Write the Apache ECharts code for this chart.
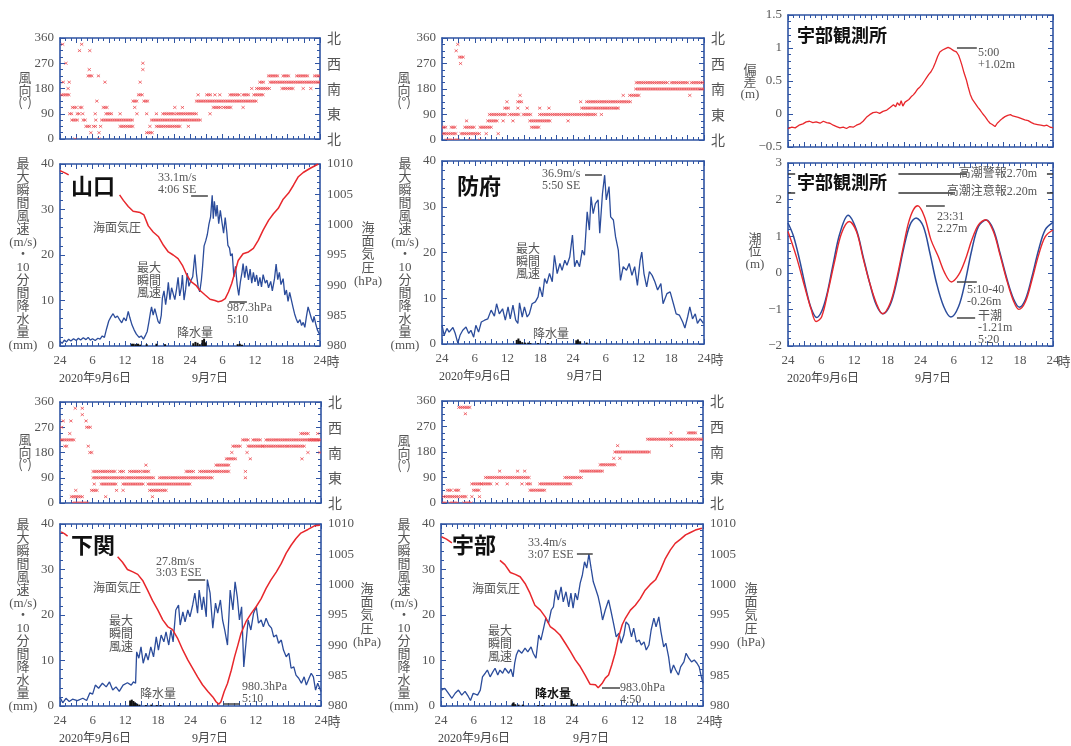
<!DOCTYPE html>
<html><head><meta charset="utf-8">
<script src="https://cdn.jsdelivr.net/npm/echarts@6/dist/echarts.min.js"></script>
<style>html,body{margin:0;padding:0;background:#fff}#c{width:1071px;height:746px}</style>
</head><body><div id="c"></div>
<script>
// ---------- tick labels ----------
const hourLabels = ['24','6','12','18','24','6','12','18','24'];
const dirLabels = {0:'北',90:'東',180:'南',270:'西',360:'北'};

// ---------- wind direction runs [startHour, endHour, degrees] ----------
const dirYamaguchi = [[0.5,0.5,337.5],[0.3,1.5,157.5],[0.6,0.6,202.5],[1.1,1.1,270],[1.5,1.5,180],[1.7,1.7,202.5],[1.8,2.2,90],[2.3,2.8,112.5],[2.2,3.1,67.5],[2.8,2.8,0],[3.2,3.7,90],[3.6,3.6,315],[3.7,4.0,112.5],[4.2,4.2,90],[4.0,4.0,337.5],[4.3,4.8,67.5],[4.8,5.5,45],[5.2,5.8,225],[5.4,5.4,247.5],[5.5,5.5,315],[5.7,5.7,22.5],[6.2,6.5,45],[6.5,6.5,90],[6.6,6.6,67.5],[6.8,6.8,135],[7.1,7.1,225],[7.2,7.2,0],[7.2,7.2,22.5],[7.5,7.5,45],[8.0,8.6,112.5],[8.3,8.3,202.5],[8.5,9.5,90],[7.7,13.5,67.5],[11.1,11.1,90],[11.1,13.5,45],[13.5,14.2,135],[13.8,13.8,112.5],[14.2,14.2,90],[14.5,15.1,157.5],[14.8,14.8,202.5],[15.3,15.3,247.5],[15.3,15.3,270],[15.5,16.0,135],[16.0,16.0,90],[16.0,16.9,22.5],[16.6,16.6,45],[17.8,22.2,45],[16.9,25.8,67.5],[17.8,17.8,90],[19.0,21.0,90],[21.2,21.2,112.5],[21.5,25.2,90],[22.6,22.6,112.5],[23.7,23.7,45],[25.2,36.3,135],[25.5,25.5,157.5],[27.1,27.7,157.5],[27.7,27.7,90],[28.3,29.5,112.5],[28.6,28.6,157.5],[29.5,29.5,157.5],[30.2,31.4,112.5],[31.4,33.2,157.5],[33.8,33.8,112.5],[33.8,34.8,157.5],[35.4,35.4,180],[35.8,37.5,157.5],[36.3,38.8,180],[36.9,37.5,202.5],[38.5,40.0,225],[38.8,48,202.5],[41.0,43.1,180],[41.2,42.2,225],[43.7,45.8,225],[44.9,44.9,180],[46.3,46.3,180],[47.0,48,225]];
const dirHofu = [[0,0.5,45],[0.2,2.6,22.5],[0.8,1.7,0],[1.7,2.3,45],[2.3,2.9,0],[2.6,2.6,315],[2.9,2.9,337.5],[3.2,3.7,292.5],[3.4,3.4,270],[3.5,6.9,22.5],[4.2,5.7,45],[4.5,4.5,67.5],[5.1,5.1,0],[6.9,6.9,0],[7.0,9.0,45],[8.1,8.1,22.5],[8.4,10.0,67.5],[8.7,11.8,90],[10.3,10.3,22.5],[11.2,11.2,67.5],[11.5,12.1,112.5],[11.9,11.9,135],[12.4,13.9,90],[13.0,13.0,67.5],[13.9,13.9,112.5],[13.9,14.6,135],[14.3,14.3,157.5],[14.9,16.1,90],[15.6,15.6,112.5],[16.1,19.8,67.5],[16.4,17.8,45],[17.9,17.9,112.5],[17.9,26.5,90],[19.6,19.6,112.5],[23.1,23.1,67.5],[25.4,25.4,135],[25.6,27.1,112.5],[26.5,34.4,135],[26.8,28.0,90],[27.7,32.0,112.5],[29.2,29.2,90],[32.3,32.3,112.5],[33.2,33.2,157.5],[34.4,36.0,157.5],[35.5,48,180],[35.6,41.2,202.5],[42.0,45.1,202.5],[45.4,45.4,157.5],[45.7,48,202.5]];
const dirShimonoseki = [[0.3,0.3,270],[0.6,0.6,292.5],[0.2,2.4,225],[0.9,1.2,202.5],[1.8,1.8,247.5],[2.0,2.0,292.5],[2.1,4.0,22.5],[2.4,4.9,0],[2.9,2.9,45],[2.8,2.8,337.5],[4.1,4.1,337.5],[4.1,4.1,315],[4.8,4.8,292.5],[4.9,5.5,270],[5.2,5.2,202.5],[5.5,5.8,180],[5.8,6.7,45],[6.3,6.3,67.5],[6.1,11.6,90],[6.1,10.1,112.5],[7.6,10.1,67.5],[8.4,8.4,22.5],[10.4,10.4,45],[11.0,11.6,112.5],[11.6,11.6,45],[11.6,15.3,67.5],[12.2,17.1,90],[12.8,14.7,112.5],[15.3,16.2,112.5],[15.8,15.8,135],[16.2,23.9,67.5],[16.5,19.6,45],[17.0,17.0,22.5],[18.3,28.1,90],[23.2,24.5,112.5],[25.7,30.9,112.5],[28.7,30.9,135],[30.6,32.1,157.5],[31.6,31.6,180],[31.8,33.0,202.5],[33.6,34.6,225],[34.1,34.1,112.5],[34.1,34.1,90],[34.4,34.4,180],[35.0,35.0,157.5],[34.6,37.3,202.5],[35.5,36.7,225],[37.9,47.7,225],[37.3,41.6,202.5],[41.9,45.0,202.5],[44.3,45.6,247.5],[44.5,44.5,157.5],[45.6,45.6,180],[45.9,48,225],[47.4,47.4,247.5],[47.8,47.8,180]];
const dirUbe = [[0,0.6,0],[0.3,3.1,22.5],[1.0,1.5,45],[1.5,2.8,0],[2.4,3.1,45],[3.1,5.2,337.5],[4.3,4.3,315],[3.4,4.3,22.5],[4.0,5.2,0],[5.5,5.5,22.5],[5.5,7.0,67.5],[5.8,6.7,45],[6.9,6.9,22.5],[7.3,8.9,67.5],[8.0,15.9,90],[10.1,10.1,67.5],[10.6,10.6,112.5],[12.0,12.0,67.5],[13.9,13.9,112.5],[14.7,14.7,67.5],[15.2,15.2,112.5],[15.6,16.2,67.5],[16.2,19.0,45],[18.0,23.5,67.5],[22.6,25.7,90],[25.5,29.4,112.5],[29.1,31.8,135],[31.6,31.6,157.5],[32.7,32.7,157.5],[31.8,38.2,180],[32.3,32.3,202.5],[37.8,48,225],[42.1,42.1,247.5],[42.2,42.2,202.5],[45.3,46.7,247.5]];

// ---------- max instantaneous wind speed [hour, m/s] ----------
const windYamaguchi = [[0,1.0],[0.4,0.6],[0.8,1.3],[1.2,0.9],[1.6,1.5],[2.0,1.1],[2.5,1.6],[3,1.2],[3.4,1.7],[3.8,1.3],[4.3,1.8],[4.8,1.4],[5.2,1.9],[5.6,1.3],[6,1.6],[6.5,1.2],[7,1.7],[7.4,1.5],[7.8,2.2],[8.2,1.9],[8.6,3.8],[9,5.5],[9.4,6.4],[9.8,7.1],[10.2,6.2],[10.6,6.6],[11,5.8],[11.4,5.1],[11.8,6.2],[12.2,5.5],[12.6,7.6],[12.9,6.2],[13.3,4.6],[13.7,3.5],[14.1,2.6],[14.6,1.9],[15,2.2],[15.4,1.5],[15.8,2.4],[16.1,3.2],[16.4,5.2],[16.7,7.4],[16.9,8.6],[17.2,6.8],[17.5,8.2],[17.8,8.6],[18.1,5.4],[18.4,4.9],[18.7,6.8],[18.9,10.5],[19.2,12.1],[19.5,9.1],[19.8,11.6],[20.0,14.0],[20.3,10.2],[20.6,12.8],[20.9,13.2],[21.2,10.2],[21.5,12.4],[21.8,15.1],[22.1,11.0],[22.4,12.9],[22.6,15.6],[22.9,10.1],[23.2,12.5],[23.5,16.0],[23.8,13.1],[24.1,14.2],[24.5,15.2],[24.9,20.1],[25.2,15.8],[25.5,13.0],[25.8,11.9],[26.1,14.5],[26.3,17.2],[26.6,22.0],[26.9,23.1],[27.2,24.5],[27.5,26.8],[27.8,28.4],[28.1,33.1],[28.3,28.0],[28.5,31.8],[28.8,28.5],[29.0,31.0],[29.3,26.9],[29.6,29.8],[29.9,27.2],[30.2,24.8],[30.5,28.2],[30.8,25.0],[31.0,22.1],[31.3,21.5],[31.5,19.8],[31.8,20.3],[32.1,15.2],[32.4,17.5],[32.7,13.5],[33.0,11.1],[33.3,14.1],[33.6,16.2],[33.8,18.1],[34.1,15.0],[34.4,17.6],[34.8,14.5],[35.1,16.9],[35.4,13.8],[35.7,16.2],[36.0,14.1],[36.3,15.6],[36.6,13.2],[36.9,15.1],[37.2,13.0],[37.5,15.7],[37.9,13.8],[38.2,14.5],[38.5,12.8],[38.9,14.2],[39.2,12.1],[39.6,14.8],[39.9,18.0],[40.2,14.6],[40.5,16.2],[40.8,13.5],[41.2,14.8],[41.5,11.2],[41.8,12.3],[42.1,9.8],[42.4,11.8],[42.7,10.2],[43.0,8.6],[43.3,7.1],[43.6,6.0],[43.9,5.1],[44.3,5.8],[44.6,4.5],[44.9,5.2],[45.2,4.1],[45.5,6.5],[45.8,8.6],[46.1,8.2],[46.4,6.1],[46.7,5.2],[46.9,6.5],[47.2,4.9],[47.5,3.6],[47.8,2.8],[48,2.6]];
const windHofu = [[0,4.1],[0.4,1.9],[0.9,3.4],[1.3,2.6],[2,3.6],[2.4,2.4],[2.9,0.2],[3.3,1.9],[3.8,3.0],[4.4,3.7],[4.9,2.3],[5.3,3.0],[5.8,1.5],[6.2,4.1],[6.7,2.6],[7.2,4.8],[7.8,5.2],[8.4,5.5],[9,7.4],[9.6,6.1],[10,8.8],[10.5,6.6],[11.1,7.7],[11.6,5.2],[12.1,8.1],[12.5,5.5],[13,8.5],[13.5,5.2],[13.9,4.5],[14.2,9.0],[14.7,5.9],[15.1,8.1],[15.6,5.9],[16,6.6],[16.5,8.8],[17.1,9.2],[17.6,10.3],[17.9,12.5],[18.4,10.3],[18.8,14.3],[19.2,13.2],[19.7,15.4],[20.2,13.6],[20.6,19.4],[21.1,15.4],[21.6,17.6],[22,16.1],[22.5,18.3],[22.9,17.2],[23.4,19.0],[23.9,23.8],[24.3,16.9],[24.7,18.3],[25.2,16.9],[25.7,20.5],[26.1,19.4],[26.6,28.9],[27,24.9],[27.3,32.2],[27.7,28.5],[28.1,30.7],[28.6,31.5],[28.9,24.2],[29.4,32.9],[29.8,36.9],[30.1,31.5],[30.6,34.4],[30.9,27.8],[31.4,27.1],[31.8,23.4],[32.3,20.5],[32.7,13.9],[33.2,16.9],[33.8,16.1],[34.3,17.6],[34.8,15.0],[35.3,16.9],[35.8,12.8],[36.3,18.3],[36.6,20.1],[37,15.4],[37.5,12.5],[38,15.8],[38.5,15.0],[39,13.6],[39.5,11.8],[40.1,13.2],[40.5,8.8],[41.2,11.0],[41.8,11.4],[42.4,8.8],[42.9,6.6],[43.5,6.3],[44.1,4.8],[44.5,3.5],[45,5.9],[45.4,8.1],[45.9,5.5],[46.4,6.6],[46.8,4.5],[47.3,5.5],[47.9,4.5]];
const windShimonoseki = [[0,1.9],[0.5,0.7],[1.1,1.7],[1.7,1.0],[2.3,1.5],[3.2,1.2],[4.2,1.7],[4.9,1.2],[5.5,2.9],[6,2.6],[6.5,4.6],[7.1,3.9],[7.8,5.0],[8.5,4.2],[9.1,5.3],[9.7,3.5],[10.3,4.2],[10.9,3.2],[11.6,4.6],[12.4,5.1],[13.1,4.6],[13.5,5.3],[13.9,5.0],[14.1,11.9],[14.5,10.5],[14.9,13.0],[15.3,9.4],[15.8,11.6],[16.2,10.1],[16.7,13.0],[17.2,10.8],[17.7,15.2],[18.1,12.3],[18.6,15.6],[19.1,14.1],[19.5,16.3],[20,13.4],[20.4,16.7],[20.8,14.1],[21.3,21.1],[21.8,22.2],[22.1,17.8],[22.6,20.7],[23,18.5],[23.5,21.1],[23.9,19.6],[24.4,22.2],[24.8,24.8],[25.3,20.4],[25.6,25.5],[26.1,21.1],[26.4,24.0],[26.9,19.6],[27.1,27.8],[27.6,24.8],[28.1,17.1],[28.6,22.6],[29,20.4],[29.5,23.3],[29.9,18.9],[30.3,16.7],[30.8,13.4],[31.3,25.5],[31.8,21.1],[32.2,27.3],[32.6,24.0],[33,18.9],[33.4,21.8],[33.8,8.6],[34.2,13.8],[34.6,18.9],[35.1,16.7],[35.6,20.4],[36.1,21.8],[36.5,18.2],[37,18.9],[37.4,17.4],[37.9,19.3],[38.4,17.8],[38.9,17.1],[39.3,15.2],[39.8,15.6],[40.2,13.8],[40.7,14.5],[41.1,12.3],[41.6,10.8],[42.1,11.6],[42.5,8.3],[43,8.6],[43.4,6.8],[43.9,6.1],[44.4,5.0],[44.9,6.4],[45.3,4.6],[45.8,6.1],[46.2,7.2],[46.6,6.4],[47,3.5],[47.4,5.0],[48,3.2]];
const windUbe = [[0.1,3.5],[0.7,3.9],[1.3,2.9],[2,1.7],[2.6,2.8],[3.2,3.5],[3.8,2.4],[4.4,3.2],[5,2.1],[5.4,1.2],[5.9,2.8],[6.7,2.4],[7.2,3.5],[7.6,6.4],[8.1,7.2],[8.5,7.9],[9,6.4],[9.5,7.5],[9.9,8.3],[10.4,6.8],[10.8,7.9],[11.3,7.2],[11.7,8.3],[12.4,7.2],[12.8,8.1],[13.2,6.4],[13.5,9.4],[13.8,11.2],[14.2,12.3],[14.8,11.6],[15.4,12.7],[15.9,11.9],[16.5,13.0],[16.9,11.6],[17.4,10.5],[17.9,15.6],[18.3,14.5],[18.8,17.1],[19.2,19.3],[19.7,18.2],[20.2,21.1],[20.6,21.8],[21,25.5],[21.5,23.3],[22,26.2],[22.4,22.9],[22.9,25.1],[23.4,21.8],[23.8,24.8],[24.2,21.5],[24.6,24.8],[25,23.3],[25.5,27.0],[25.9,28.8],[26.3,31.7],[26.7,30.3],[27.1,33.4],[27.5,30.3],[27.9,27.3],[28.4,25.5],[28.8,24.0],[29.2,21.8],[29.6,18.9],[30.1,21.1],[30.7,23.3],[31.1,21.1],[31.6,18.2],[32.1,15.2],[32.6,16.0],[33,13.8],[33.5,15.6],[33.9,18.5],[34.4,17.8],[34.9,15.2],[35.3,17.1],[35.8,14.1],[36.3,14.5],[36.7,13.4],[37.2,14.1],[37.6,12.3],[38.1,13.4],[38.5,16.7],[39,19.3],[39.4,17.4],[39.9,19.6],[40.3,16.3],[40.8,13.0],[41.2,13.8],[41.7,10.8],[42.1,7.2],[42.6,9.0],[43,7.9],[43.5,6.8],[43.9,8.6],[44.5,9.7],[44.9,11.6],[45.4,10.5],[45.9,9.7],[46.4,10.1],[46.9,9.4],[47.3,8.6],[47.7,6.4],[48,5.0]];

// ---------- sea level pressure [hour, hPa] (null = hidden) ----------
const presYamaguchi = [[0,1008.9],[0.5,1008.7],[1,1008.5],[1.6,1008.2],[1.8,null],[11,1004.9],[11.7,1004.0],[12.6,1003.0],[13.5,1002.2],[14.8,1002.0],[15.5,1001.6],[16.3,999.8],[17.2,998.8],[18.2,998.0],[19.1,996.6],[20,995.5],[20.9,995.0],[21.8,994.4],[22.6,993.3],[23.4,991.7],[24.2,990.6],[25.1,990.0],[25.8,989.2],[26.8,988.4],[27.7,987.7],[28.6,987.5],[29.2,987.3],[29.8,987.4],[30.5,987.8],[31.1,988.9],[31.7,990.3],[32.3,992.2],[32.9,994.1],[33.8,995.2],[34.8,995.5],[35.7,996.1],[36.6,997.4],[37.5,999.1],[38.5,1000.7],[39.4,1001.8],[40.3,1002.7],[41.2,1004.2],[42.2,1005.2],[43.1,1006.5],[44,1007.9],[44.9,1008.6],[46.2,1009.3],[47.7,1010.0]];
const presShimonoseki = [[0.2,1008.7],[0.8,1008.4],[1.4,1008.0],[1.6,null],[10.6,1004.6],[11.5,1003.7],[12.4,1002.5],[13.4,1002.1],[14.3,1001.7],[15.2,1000.7],[16.1,999.1],[17,997.4],[18,995.8],[18.9,994.2],[19.8,993.1],[20.7,992.6],[21.6,991.2],[22.6,989.2],[23.5,987.6],[24.4,986.2],[25.3,984.8],[26.2,983.5],[27.2,982.4],[28.1,981.5],[28.7,980.7],[29.2,980.3],[29.6,980.7],[30.2,982.4],[30.8,983.7],[31.5,985.9],[32.1,988.1],[32.7,990.0],[33.3,992.0],[34.2,993.9],[35.2,995.3],[36.1,996.4],[37,997.7],[37.9,999.4],[38.8,1000.8],[39.8,1002.1],[40.7,1003.5],[41.6,1005.2],[42.5,1006.5],[43.4,1007.6],[44.3,1008.5],[45.6,1009.1],[46.8,1009.7],[47.8,1009.8]];
const presUbe = [[0.1,1007.9],[1,1007.5],[2,1006.9],[2.1,null],[10.8,1004.0],[11.7,1003.3],[12.7,1002.0],[13.6,1001.7],[14.5,1001.3],[15.4,1000.2],[16.3,998.6],[17.2,996.6],[18.2,995.8],[19.1,994.7],[20,993.1],[20.9,992.5],[21.8,991.7],[22.8,990.3],[23.7,989.0],[24.6,987.6],[25.5,986.5],[26.4,985.1],[27.3,983.6],[28.3,983.5],[28.8,983.0],[29.5,983.7],[30.1,984.6],[30.7,985.1],[31.3,986.8],[31.9,988.7],[32.5,991.2],[33.2,993.4],[33.8,994.5],[34.7,995.8],[35.6,996.6],[36.5,997.7],[37.4,999.1],[38.3,1000.0],[39.3,1000.8],[40.2,1002.4],[41.1,1004.3],[42,1005.7],[42.9,1006.8],[43.9,1007.5],[44.8,1008.2],[45.7,1008.6],[46.6,1009.0],[47.8,1009.3]];

// ---------- 10-min precipitation [hour, mm] ----------
const rainYamaguchi = [[13.3,0.5],[13.6,0.5],[14,0.4],[14.4,0.5],[14.8,0.3],[16,0.4],[17.8,0.5],[19.4,0.4],[24.6,0.6],[25,0.9],[25.4,0.7],[25.8,0.4],[26.3,1.3],[26.6,1.6],[26.9,0.8],[32.8,0.4],[33.2,0.5],[33.6,0.3]];
const rainHofu = [[13.7,0.9],[14.0,1.2],[14.3,0.7],[14.7,0.4],[15.2,0.3],[15.8,0.3],[16.2,0.2],[17.6,0.2],[19.4,0.2],[24.6,0.8],[24.9,1.0],[25.3,0.6],[26.5,0.3]];
const rainShimonoseki = [[12.9,1.2],[13.2,1.4],[13.5,1.1],[13.8,0.8],[14.2,0.5],[14.6,0.3],[15.8,0.2],[16.8,0.3],[17.8,0.2],[18.5,0.2],[21.8,0.2]];
const rainUbe = [[13.1,0.5],[13.3,0.8],[13.6,0.4],[14.2,0.3],[15,0.3],[17.8,0.2],[18.6,0.2],[23.9,1.5],[24.3,0.5],[24.8,0.3]];

// ---------- Ube tide station [hour, m] ----------
const surgeUbe = [[0,-0.22],[0.7,-0.2],[1.3,-0.21],[2,-0.17],[2.7,-0.15],[3.3,-0.12],[3.9,-0.11],[4.5,-0.13],[5.1,-0.12],[5.8,-0.14],[6.4,-0.11],[7,-0.13],[7.6,-0.14],[8.2,-0.17],[8.8,-0.19],[9.4,-0.21],[10,-0.2],[10.6,-0.22],[11.2,-0.19],[11.8,-0.2],[12.4,-0.17],[13,-0.15],[13.6,-0.11],[14.2,-0.05],[14.8,-0.01],[15.4,0.02],[15.7,-0.01],[16,0.03],[16.6,0.01],[17.2,0.04],[17.9,0.06],[18.5,0.1],[18.8,0.07],[19.1,0.14],[19.5,0.11],[19.8,0.17],[20.2,0.13],[20.5,0.2],[20.8,0.12],[21.2,0.18],[21.5,0.15],[21.9,0.22],[22.3,0.26],[22.7,0.29],[23.1,0.33],[23.5,0.38],[23.9,0.41],[24.3,0.45],[24.7,0.5],[25.1,0.55],[25.5,0.6],[25.9,0.64],[26.3,0.7],[26.7,0.78],[27.1,0.87],[27.5,0.94],[28,0.97],[28.5,0.99],[29,1.01],[29.5,0.99],[30,0.96],[30.5,0.94],[30.9,0.89],[31.2,0.82],[31.5,0.74],[31.9,0.62],[32.3,0.52],[32.6,0.42],[33,0.3],[33.4,0.22],[33.9,0.16],[34.4,0.1],[34.8,0.06],[35.3,0.0],[35.7,-0.04],[36.2,-0.1],[36.6,-0.14],[37,-0.16],[37.5,-0.19],[37.9,-0.14],[38.4,-0.1],[38.8,-0.07],[39.3,-0.04],[39.8,-0.02],[40.3,-0.01],[40.7,-0.03],[41.2,-0.04],[41.7,-0.05],[42.3,-0.07],[42.9,-0.09],[43.5,-0.1],[44.1,-0.13],[44.6,-0.15],[45.2,-0.16],[45.8,-0.17],[46.4,-0.18],[46.9,-0.17],[47.5,-0.2],[48,-0.21]];
const tideAstro = [[0,1.36],[1,1.0],[2.1,0.35],[3.3,-0.47],[4.2,-0.97],[5.2,-1.22],[6.1,-1.05],[7,-0.62],[8.2,0.26],[9.4,1.08],[10.9,1.57],[12.4,1.17],[13.6,0.45],[14.8,-0.28],[16,-0.88],[17.2,-1.12],[18.5,-0.88],[19.7,-0.24],[20.9,0.63],[22.1,1.31],[23.2,1.50],[24.5,1.27],[25.7,0.54],[26.9,-0.28],[28.2,-0.92],[29.5,-1.21],[30.9,-0.92],[32.1,-0.24],[33.3,0.63],[34.5,1.27],[35.9,1.44],[37.2,1.18],[38.4,0.54],[39.7,-0.19],[40.9,-0.73],[41.9,-0.94],[43,-0.73],[44.2,-0.1],[45.4,0.63],[46.6,1.18],[48,1.38]];
const tideObserved = [[0,1.13],[1.5,0.45],[3,-0.37],[4.2,-1.0],[5.1,-1.33],[6.1,-1.2],[7.3,-0.47],[8.5,0.35],[9.7,1.08],[11.1,1.40],[12.4,1.13],[13.6,0.40],[14.8,-0.28],[16,-0.83],[17.1,-1.12],[18.5,-0.83],[19.7,-0.15],[20.9,0.72],[21.8,1.35],[22.7,1.72],[23.5,1.83],[24.7,1.54],[25.9,0.9],[27.2,0.45],[28.4,-0.01],[29.6,-0.25],[30.9,-0.06],[32.1,0.35],[33.3,0.9],[34.5,1.31],[35.8,1.45],[37.2,1.13],[38.4,0.49],[39.7,-0.24],[40.9,-0.79],[41.8,-1.0],[43,-0.79],[44.2,-0.19],[45.4,0.49],[46.6,0.99],[48,1.17]];
const warnLevels = [2.70, 2.20];

// ---------- styles ----------
const AX = '#2f54a3', TXT = '#555';
const SERIF = '"Liberation Serif","DejaVu Serif","Noto Sans CJK JP",serif';
const JP = '"Noto Sans CJK JP",sans-serif';
const BLUE = '#2b4c9b', RED = '#e8272c', DIRRED = '#ec4a50';

const grids = [], xAxes = [], yAxes = [], series = [], graphics = [];
const minus = v => String(v).replace('-', '−');

function addPanel(rect, o) {
  const gi = grids.length;
  grids.push({left:rect[0], top:rect[1], width:rect[2], height:rect[3], containLabel:false, outerBoundsMode:'none'});
  const line = {show:true, onZero:false, lineStyle:{color:AX, width:1.6}};
  const tick = {show:true, inside:true, length:5, lineStyle:{color:AX, width:1}};
  const mtick = n => ({show:true, splitNumber:n, length:3, lineStyle:{color:AX, width:1}});
  const xi = xAxes.length;
  xAxes.push({gridIndex:gi, type:'value', position:'bottom', min:0, max:48, interval:3,
    axisLine:line, axisTick:tick, minorTick:mtick(3), splitLine:{show:false}, minorSplitLine:{show:false},
    axisLabel: o.xLabels ? {show:true, color:TXT, fontFamily:SERIF, fontSize:13, margin:8,
      formatter: v => (v % 6 === 0 ? hourLabels[v/6] : '')} : {show:false}});
  xAxes.push({gridIndex:gi, type:'value', position:'top', min:0, max:48, interval:3,
    axisLine:line, axisTick:tick, minorTick:mtick(3), splitLine:{show:false}, axisLabel:{show:false}});
  const yl = yAxes.length;
  const L = o.left, R = o.right || Object.assign({}, o.left, {labels:false});
  yAxes.push({gridIndex:gi, type:'value', position:'left', min:L.min, max:L.max, interval:L.interval,
    axisLine:line, axisTick:tick, minorTick:mtick(L.minor), splitLine:{show:false},
    axisLabel:{show:true, color:TXT, fontFamily:SERIF, fontSize:13, margin:6, formatter: minus}});
  yAxes.push({gridIndex:gi, type:'value', position:'right', min:R.min, max:R.max, interval:R.interval,
    axisLine:line, axisTick:tick, minorTick:mtick(R.minor), splitLine:{show:false},
    axisLabel: R.labels ? {show:true, color:TXT, fontFamily:R.font || SERIF, fontSize:R.fs || 13, margin:7,
      formatter: R.fmt || minus} : {show:false}});
  return {xi, yl, yr: yl + 1};
}

function dirRender(params, api) {
  const a = api.coord([api.value(0), api.value(2)]);
  const b = api.coord([api.value(1), api.value(2)]);
  const step = api.size([1/3, 0])[0];
  const n = Math.max(0, Math.round((b[0] - a[0]) / step));
  let d = '';
  for (let i = 0; i <= n; i++) {
    const x = a[0] + i * step, y = a[1];
    d += 'M' + (x-1.6) + ' ' + (y-1.3) + 'L' + (x+1.6) + ' ' + (y+1.3) +
         'M' + (x+1.6) + ' ' + (y-1.3) + 'L' + (x-1.6) + ' ' + (y+1.3);
  }
  return {type:'path', shape:{pathData:d}, style:{stroke:DIRRED, lineWidth:0.8, fill:null}};
}
function dirSeries(p, runs) {
  series.push({type:'custom', xAxisIndex:p.xi, yAxisIndex:p.yl, data:runs, encode:{x:[0,1], y:2},
    renderItem:dirRender, clip:true, silent:true, animation:false, z:3});
}
function leader(segs, color) {
  return {silent:true, symbol:['none','none'], animation:false, label:{show:false},
    lineStyle:{color: color || '#444', width:1.5, type:'solid'},
    data: segs.map(s => [{coord:[s[0], s[2]]}, {coord:[s[1], s[2]]}])};
}
function lineSeries(p, yIdx, data, color, width, extra) {
  series.push(Object.assign({type:'line', xAxisIndex:p.xi, yAxisIndex:yIdx, data, showSymbol:false, symbol:'none',
    connectNulls:false, lineStyle:{color, width}, itemStyle:{color}, animation:false, silent:true, z:3}, extra || {}));
}
function rainSeries(p, data) {
  series.push({type:'bar', xAxisIndex:p.xi, yAxisIndex:p.yl, data, barWidth:2, itemStyle:{color:'#111'},
    silent:true, animation:false, z:2});
}
function T(x, y, text, o) {
  o = o || {};
  graphics.push({type:'text', x, y, silent:true, z:10, style:{text, fill:o.fill || TXT,
    font:(o.weight || 'normal') + ' ' + (o.size || 12) + 'px ' + (o.family || JP),
    align:o.align || 'left', verticalAlign:o.va || 'top', lineHeight:o.lh || (o.size || 12) + 1}});
}
const vert = arr => arr.join('\n');

const DIR_L = {min:0, max:360, interval:90, minor:4};
const DIR_R = {min:0, max:360, interval:90, minor:4, labels:true, font:JP, fs:14, fmt: v => dirLabels[v] || ''};
const SPD_L = {min:0, max:40, interval:10, minor:5};
const PRS_R = {min:980, max:1010, interval:5, minor:5, labels:true};

// ---------- stations ----------
function station(cfg) {
  const pd = addPanel(cfg.dirRect, {left:DIR_L, right:DIR_R});
  dirSeries(pd, cfg.dir);
  const ps = addPanel(cfg.spdRect, {xLabels:true, left:SPD_L, right: cfg.pres ? PRS_R : null});
  rainSeries(ps, cfg.rain);
  lineSeries(ps, ps.yl, cfg.wind, BLUE, 1.3, {markLine: leader([cfg.windLead])});
  if (cfg.pres) lineSeries(ps, ps.yr, cfg.pres, RED, 1.5, {markLine: leader([cfg.presLead])});
  const R = cfg.spdRect[0] + cfg.spdRect[2], B = cfg.spdRect[1] + cfg.spdRect[3];
  T(cfg.dirNameX, cfg.dirNameY, vert(['風','向','(°)']), {size:13, lh:12.5, align:'center', va:'middle'});
  T(cfg.spdNameX, cfg.spdNameY, vert(['最','大','瞬','間','風','速','(m/s)','・','10','分','間','降','水','量','(mm)']),
    {size:13, lh:12.9, align:'center', va:'middle', family:SERIF});
  if (cfg.pres) T(cfg.presNameX, cfg.spdNameY, vert(['海','面','気','圧','(hPa)']), {size:13, lh:13.2, align:'center', va:'middle', family:SERIF});
  T(R + 13, B + 15, '時', {size:13, align:'center', va:'middle'});
  T(cfg.date1, B + 33, '2020年9月6日', {size:12, align:'center', va:'middle', family:SERIF, fill:'#444'});
  T(cfg.date2, B + 33, '9月7日', {size:12, align:'center', va:'middle', family:SERIF, fill:'#444'});
  T(cfg.name[0], cfg.name[1], cfg.label, {size:22, weight:'bold', fill:'#111'});
  cfg.notes.forEach(n => T(n[0], n[1], n[2], n[3]));
}

station({label:'山口', dirRect:[60,38,260,101], spdRect:[60,164,260,182],
  dir:dirYamaguchi, wind:windYamaguchi, pres:presYamaguchi, rain:rainYamaguchi,
  windLead:[24.2,27.3,33.1], presLead:[31.2,34.5,987.3],
  dirNameX:25, dirNameY:90, spdNameX:23, spdNameY:255, presNameX:368, date1:95, date2:210,
  name:[71,174],
  notes:[[158,172,'33.1m/s\n4:06 SE',{family:SERIF, lh:12}],
         [117,227,'海面気圧',{align:'center', va:'middle'}],
         [149,280,'最大\n瞬間\n風速',{align:'center', va:'middle', lh:12.5}],
         [195,332,'降水量',{align:'center', va:'middle'}],
         [227,302,'987.3hPa\n5:10',{family:SERIF, lh:12}]]});

station({label:'防府', dirRect:[442,38,262,102], spdRect:[442,161,262,183],
  dir:dirHofu, wind:windHofu, pres:null, rain:rainHofu,
  windLead:[26.2,29.3,36.9],
  dirNameX:404, dirNameY:90, spdNameX:405, spdNameY:255, date1:475, date2:585,
  name:[457,174],
  notes:[[542,168,'36.9m/s\n5:50 SE',{family:SERIF, lh:12}],
         [528,261,'最大\n瞬間\n風速',{align:'center', va:'middle', lh:12.5}],
         [551,333,'降水量',{align:'center', va:'middle'}]]});

station({label:'下関', dirRect:[60,402,261,101], spdRect:[60,524,261,182],
  dir:dirShimonoseki, wind:windShimonoseki, pres:presShimonoseki, rain:rainShimonoseki,
  windLead:[23.5,26.7,27.8], presLead:[30.0,33.1,980.3],
  dirNameX:25, dirNameY:452, spdNameX:23, spdNameY:616, presNameX:367, date1:95, date2:210,
  name:[71,533],
  notes:[[156,556,'27.8m/s\n3:03 ESE',{family:SERIF, lh:11}],
         [117,587,'海面気圧',{align:'center', va:'middle'}],
         [121,633,'最大\n瞬間\n風速',{align:'center', va:'middle', lh:13}],
         [158,693,'降水量',{align:'center', va:'middle'}],
         [242,681,'980.3hPa\n5:10',{family:SERIF, lh:12}]]});

station({label:'宇部', dirRect:[442,401,261,102], spdRect:[441,524,262,182],
  dir:dirUbe, wind:windUbe, pres:presUbe, rain:rainUbe,
  windLead:[24.9,27.8,33.4], presLead:[29.5,32.8,983.0],
  dirNameX:404, dirNameY:453, spdNameX:404, spdNameY:616, presNameX:751, date1:474, date2:591,
  name:[452,533],
  notes:[[528,537,'33.4m/s\n3:07 ESE',{family:SERIF, lh:12}],
         [496,588,'海面気圧',{align:'center', va:'middle'}],
         [500,643,'最大\n瞬間\n風速',{align:'center', va:'middle', lh:13}],
         [553,693,'降水量',{align:'center', va:'middle', fill:'#111', weight:'bold'}],
         [620,682,'983.0hPa\n4:50',{family:SERIF, lh:12}]]});

// ---------- Ube tide station ----------
const pDev = addPanel([788,15,265,132], {left:{min:-0.5, max:1.5, interval:0.5, minor:5}});
lineSeries(pDev, pDev.yl, surgeUbe, RED, 1.3, {markLine: leader([[30.6,34.2,1.01]])});
const pTide = addPanel([788,163,265,183], {xLabels:true, left:{min:-2, max:3, interval:1, minor:5}});
lineSeries(pTide, pTide.yl, tideAstro, BLUE, 1.5, {smooth:0.35,
  markLine: leader([[0,1.3,warnLevels[0]],[20.0,32.4,warnLevels[0]],[46.9,48,warnLevels[0]],
                    [0,1.3,warnLevels[1]],[20.0,30.0,warnLevels[1]],[46.9,48,warnLevels[1]]], '#333')});
lineSeries(pTide, pTide.yl, tideObserved, RED, 1.4, {smooth:0.35,
  markLine: leader([[25.0,28.4,1.83],[30.6,34.2,-0.25],[30.6,33.9,-1.22]])});
T(750, 83, vert(['偏','差','(m)']), {size:13, lh:12, align:'center', va:'middle', family:SERIF});
T(755, 252, vert(['潮','位','(m)']), {size:13, lh:12.5, align:'center', va:'middle', family:SERIF});
T(797, 26, '宇部観測所', {size:18, weight:'bold', fill:'#111'});
T(797, 173, '宇部観測所', {size:18, weight:'bold', fill:'#111'});
T(978, 47, '5:00\n+1.02m', {family:SERIF, lh:12});
T(1037, 174, '高潮警報2.70m', {family:SERIF, align:'right', va:'middle'});
T(1037, 192, '高潮注意報2.20m', {family:SERIF, align:'right', va:'middle'});
T(937, 211, '23:31\n2.27m', {family:SERIF, lh:12});
T(967, 284, '5:10-40\n-0.26m', {family:SERIF, lh:12});
T(978, 311, '干潮\n-1.21m\n5:20', {family:SERIF, lh:11.5});
T(1064, 361, '時', {size:13, align:'center', va:'middle'});
T(823, 379, '2020年9月6日', {size:12, align:'center', va:'middle', family:SERIF, fill:'#444'});
T(933, 379, '9月7日', {size:12, align:'center', va:'middle', family:SERIF, fill:'#444'});

const chart = echarts.init(document.getElementById('c'), null, {renderer:'canvas'});
chart.setOption({animation:false, backgroundColor:'#fff', grid:grids, xAxis:xAxes, yAxis:yAxes, series, graphic:graphics});
</script>
</body></html>
